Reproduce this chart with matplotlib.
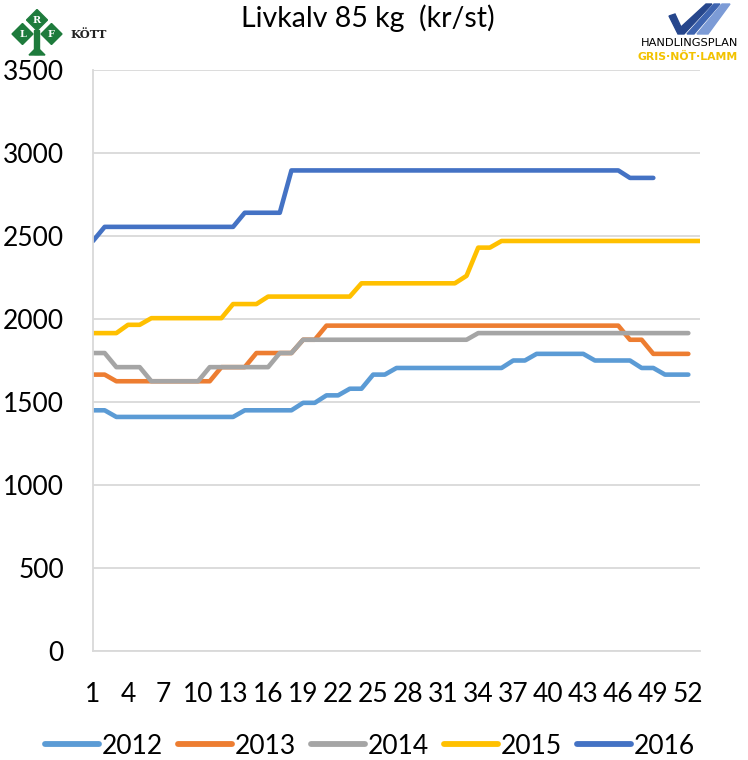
import matplotlib
matplotlib.use("Agg")
import matplotlib.pyplot as plt
from matplotlib.patches import Polygon, Rectangle

plt.rcParams['font.family'] = ['Lato', 'DejaVu Sans']

weeks_2012 = list(range(1, 53))
v2012 = [1450, 1450, 1410, 1410, 1410, 1410, 1410, 1410, 1410, 1410,
         1410, 1410, 1410, 1450, 1450, 1450, 1450, 1450, 1495, 1495,
         1540, 1540, 1580, 1580, 1665, 1665, 1705, 1705, 1705, 1705,
         1705, 1705, 1705, 1705, 1705, 1705, 1750, 1750, 1790, 1790,
         1790, 1790, 1790, 1750, 1750, 1750, 1750, 1705, 1705, 1665,
         1665, 1665]
weeks_2013 = list(range(1, 53))
v2013 = [1665, 1665, 1625, 1625, 1625, 1625, 1625, 1625, 1625, 1625,
         1625, 1710, 1710, 1710, 1795, 1795, 1795, 1795, 1875, 1875,
         1960, 1960, 1960, 1960, 1960, 1960, 1960, 1960, 1960, 1960,
         1960, 1960, 1960, 1960, 1960, 1960, 1960, 1960, 1960, 1960,
         1960, 1960, 1960, 1960, 1960, 1960, 1875, 1875, 1790, 1790,
         1790, 1790]
weeks_2014 = list(range(1, 53))
v2014 = [1795, 1795, 1710, 1710, 1710, 1625, 1625, 1625, 1625, 1625,
         1710, 1710, 1710, 1710, 1710, 1710, 1795, 1795, 1875, 1875,
         1875, 1875, 1875, 1875, 1875, 1875, 1875, 1875, 1875, 1875,
         1875, 1875, 1875, 1915, 1915, 1915, 1915, 1915, 1915, 1915,
         1915, 1915, 1915, 1915, 1915, 1915, 1915, 1915, 1915, 1915,
         1915, 1915]
weeks_2015 = list(range(1, 54))
v2015 = [1915, 1915, 1915, 1965, 1965, 2005, 2005, 2005, 2005, 2005,
         2005, 2005, 2090, 2090, 2090, 2135, 2135, 2135, 2135, 2135,
         2135, 2135, 2135, 2215, 2215, 2215, 2215, 2215, 2215, 2215,
         2215, 2215, 2260, 2430, 2430, 2470, 2470, 2470, 2470, 2470,
         2470, 2470, 2470, 2470, 2470, 2470, 2470, 2470, 2470, 2470,
         2470, 2470, 2470]
weeks_2016 = list(range(1, 50))
v2016 = [2470, 2555, 2555, 2555, 2555, 2555, 2555, 2555, 2555, 2555,
         2555, 2555, 2555, 2640, 2640, 2640, 2640, 2895, 2895, 2895,
         2895, 2895, 2895, 2895, 2895, 2895, 2895, 2895, 2895, 2895,
         2895, 2895, 2895, 2895, 2895, 2895, 2895, 2895, 2895, 2895,
         2895, 2895, 2895, 2895, 2895, 2895, 2850, 2850, 2850]

series = [("2012", weeks_2012, v2012, "#5B9BD5"),
          ("2013", weeks_2013, v2013, "#ED7D31"),
          ("2014", weeks_2014, v2014, "#A5A5A5"),
          ("2015", weeks_2015, v2015, "#FFC000"),
          ("2016", weeks_2016, v2016, "#4472C4")]

xtick_labels = list(range(1, 53, 3))
yticks = [0, 500, 1000, 1500, 2000, 2500, 3000, 3500]

W, H = 748, 760
fig = plt.figure(figsize=(W / 100, H / 100), dpi=100)
ax = fig.add_axes([93 / W, 1 - 651 / H, (700 - 93) / W, (651 - 70) / H])

for name, wk, vals, col in series:
    ax.plot(wk, vals, color=col, lw=3.3, solid_capstyle='round',
            solid_joinstyle='round', label=name)

ax.set_xlim(1, 53)
ax.set_ylim(0, 3500)
ax.set_yticks(yticks)
ax.set_xticks(xtick_labels)
ax.set_xticklabels([str(t) for t in xtick_labels])
ax.tick_params(axis='both', length=0, labelsize=19, colors='black')
ax.tick_params(axis='y', pad=21)
ax.tick_params(axis='x', pad=22)
ax.grid(axis='y', color='#D9D9D9', lw=1.3)
ax.set_axisbelow(True)
for s in ['top', 'right']:
    ax.spines[s].set_visible(False)
for s in ['left', 'bottom']:
    ax.spines[s].set_color('#D9D9D9')
    ax.spines[s].set_linewidth(1.3)

leg = fig.legend(loc='center', bbox_to_anchor=(370 / W, 1 - 746 / H), ncol=5,
                 frameon=False, fontsize=19, handlelength=2.05,
                 handletextpad=0.12, columnspacing=0.55)
for ln in leg.get_lines():
    ln.set_linewidth(4.2)
    ln.set_solid_capstyle('round')

fig.text(368 / W, 1 - 18 / H, "Livkalv 85 kg  (kr/st)", ha='center',
         va='center', fontsize=20.5)

# overlay for logos
ov = fig.add_axes([0, 0, 1, 1], zorder=-1)
ov.set_xlim(0, W)
ov.set_ylim(H, 0)
ov.axis('off')

green = '#1E7B3C'
def diamond(cx, cy, r):
    return Polygon([(cx, cy - r), (cx + r, cy), (cx, cy + r), (cx - r, cy)],
                   closed=True, color=green)
ov.add_patch(Rectangle((34.5, 30), 5, 24, color=green))
ov.add_patch(Polygon([(29, 55), (45, 55), (40, 50), (34, 50)], color=green))
for cx, cy, letter in [(37, 20, 'R'), (22.5, 34, 'L'), (51.5, 34, 'F')]:
    ov.add_patch(diamond(cx, cy, 10.5))
    ov.text(cx, cy + 0.5, letter, color='white', fontsize=7, ha='center',
            va='center', family='DejaVu Serif', fontweight='bold')
ov.text(70, 35, "KÖTT", fontsize=8.2, ha='left', va='center',
        family='DejaVu Serif', fontweight='bold', color='#222222')

# Handlingsplan logo
ov.add_patch(Polygon([(669, 16), (675, 14), (681, 27), (706, 4), (712, 4),
                      (684, 34), (678, 34)], color='#26468C'))
ov.add_patch(Polygon([(714, 4), (720, 4), (694, 34), (687, 34)],
                     color='#3E64B0'))
ov.add_patch(Polygon([(722, 4), (730, 4), (708, 34), (697, 34)],
                     color='#7C9BD6'))
ov.text(690, 43, "HANDLINGSPLAN", fontsize=8.2, ha='center', va='center',
        family='Liberation Sans Narrow', color='black')
ov.text(688, 56.5, "GRIS·NÖT·LAMM", fontsize=7.8, ha='center', va='center',
        family='Liberation Sans Narrow', fontweight='bold', color='#F2C200')

fig.savefig("out.png", dpi=100)
